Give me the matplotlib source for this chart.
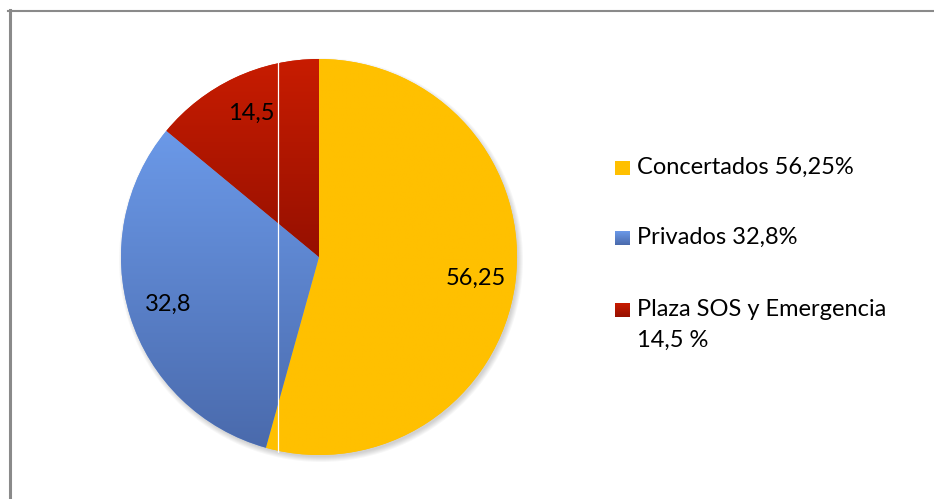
import matplotlib
matplotlib.use("Agg")
import matplotlib.pyplot as plt
import numpy as np
from matplotlib.patches import Circle
from matplotlib.lines import Line2D
from matplotlib.colors import LinearSegmentedColormap

plt.rcParams['font.family'] = ['Lato', 'DejaVu Sans']

# data
values = [56.25, 32.8, 14.5]
legend_labels = ['Concertados 56,25%', 'Privados 32,8%', 'Plaza SOS y Emergencia\n14,5 %']
# gradient (top, bottom) per slice
colors_top = ['#ffc000', '#6b99e8', '#c81c00']
colors_bot = ['#ffc000', '#4a6aac', '#961000']

W, H = 934, 499
fig = plt.figure(figsize=(W / 100, H / 100), dpi=100, facecolor='white')
ax = fig.add_axes([0, 0, 1, 1])

cx, cy, R = 319, H - 257, 198
fs = 17

# soft shadow under the pie
for k in range(6):
    ax.add_patch(Circle((cx + 2, cy - 3), R + 4 - k, facecolor='#000000',
                        alpha=0.03, edgecolor='none', zorder=0))

fmt = lambda v: ('%.2f' % v).rstrip('0').rstrip('.').replace('.', ',')
wedges, texts = ax.pie(values, labels=[fmt(v) for v in values], colors=colors_top,
                       startangle=90, counterclock=False, center=(cx, cy), radius=R,
                       labeldistance=0.8, wedgeprops=dict(linewidth=0),
                       textprops=dict(fontsize=fs, color='black'))
for t in texts:
    t.set_ha('center')
    t.set_va('center')
    t.set_zorder(5)

# vertical gradient fill, clipped to each wedge
for w, ct, cb in zip(wedges, colors_top, colors_bot):
    cmap = LinearSegmentedColormap.from_list('g', [cb, ct])
    grad = np.linspace(0, 1, 256).reshape(-1, 1)
    verts = w.get_path().vertices
    y0, y1 = verts[:, 1].min(), verts[:, 1].max()
    x0, x1 = verts[:, 0].min(), verts[:, 0].max()
    im = ax.imshow(grad, cmap=cmap, extent=(x0, x1, y0, y1), origin='lower',
                   aspect='auto', zorder=2, interpolation='bilinear')
    im.set_clip_path(w)

# thin white artifact line across the pie
clip = Circle((cx, cy), R + 2, transform=ax.transData)
ln, = ax.plot([277.5, 277.5], [0, H], color='white', lw=0.9, zorder=3)
ln.set_clip_path(clip)

# legend drawn by hand
leg_y = [168, 238, 310]
for lab, ct, cb, yy in zip(legend_labels, colors_top, colors_bot, leg_y):
    cmap = LinearSegmentedColormap.from_list('g', [cb, ct])
    grad = np.linspace(0, 1, 64).reshape(-1, 1)
    ax.imshow(grad, cmap=cmap, extent=(615, 630, H - yy - 7, H - yy + 7),
              origin='lower', aspect='auto', zorder=2)
    ax.text(637, H - yy + 11, lab, fontsize=fs, ha='left', va='top',
            linespacing=1.6, zorder=5)

ax.set_xlim(0, W)
ax.set_ylim(0, H)
ax.set_aspect('auto')
ax.axis('off')

# border on top and left
fig.add_artist(Line2D([8 / W, 1], [1 - 11 / H, 1 - 11 / H], color='#8a8a8a', lw=1.5))
fig.add_artist(Line2D([9.5 / W, 9.5 / W], [0, 1 - 10 / H], color='#8a8a8a', lw=2.2))

fig.savefig('out.png', dpi=100, facecolor='white')
